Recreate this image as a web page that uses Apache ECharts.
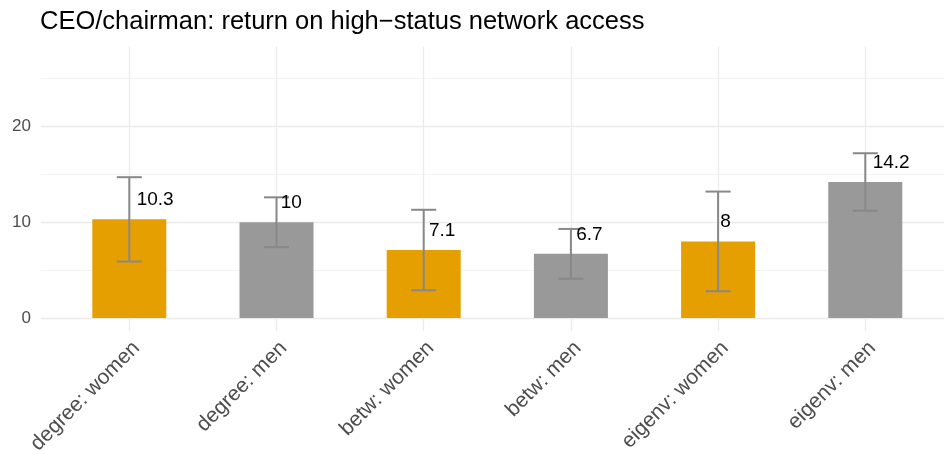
<!DOCTYPE html>
<html>
<head>
<meta charset="utf-8">
<script src="https://cdn.jsdelivr.net/npm/echarts@6/dist/echarts.min.js"></script>
<style>
  html, body { margin: 0; padding: 0; background: #fff; }
  #main { width: 944px; height: 454px; }
</style>
</head>
<body>
<div id="main"></div>
<script>
// data
var categories = ['degree: women', 'degree: men', 'betw: women', 'betw: men', 'eigenv: women', 'eigenv: men'];
var groups = ['women', 'men', 'women', 'men', 'women', 'men'];
var values = [10.3, 10, 7.1, 6.7, 8, 14.2];
var lower = [5.9, 7.4, 2.9, 4.1, 2.8, 11.2];
var upper = [14.7, 12.6, 11.3, 9.3, 13.2, 17.2];
var yMajor = [0, 10, 20];
var yMinor = [5, 15, 25];

(function () {
    var myChart = echarts.init(document.getElementById('main'));
    var colors = { women: '#E69F00', men: '#999999' };
    var fam = '"Liberation Sans", Arial, sans-serif';
    var labelFont = '19px ' + fam;
    var ctx = document.createElement('canvas').getContext('2d');
    ctx.font = labelFont;

    var idx = categories.map(function (c, i) { return i; });

    var option = {
        animation: false,
        title: {
            text: 'CEO/chairman: return on high\u2212status network access',
            left: 35,
            top: 4,
            textStyle: {
                fontFamily: fam,
                fontSize: 25.5,
                fontWeight: 'normal',
                color: '#000'
            }
        },
        grid: { left: 41, top: 46.4, width: 912.6, height: 284.6, outerBoundsMode: 'none', containLabel: false },
        xAxis: {
            type: 'value',
            min: -0.6,
            max: 5.6,
            axisLine: { show: false },
            axisTick: { show: false, customValues: idx },
            axisLabel: {
                customValues: idx,
                rotate: 45,
                margin: 21,
                padding: [0, -10, 0, 0],
                fontSize: 21,
                color: '#4d4d4d',
                fontFamily: fam,
                formatter: function (v) { return categories[Math.round(v)]; }
            },
            splitLine: { show: true, lineStyle: { color: '#ebebeb', width: 1.3 } }
        },
        yAxis: [
            {
                type: 'value',
                min: -1.35,
                max: 28.35,
                axisLine: { show: false },
                axisTick: { show: false, customValues: yMajor },
                axisLabel: {
                    customValues: yMajor,
                    margin: 10,
                    fontSize: 17,
                    color: '#4d4d4d',
                    fontFamily: fam
                },
                splitLine: { show: true, lineStyle: { color: '#ebebeb', width: 1.3 } }
            },
            {
                type: 'value',
                min: -1.35,
                max: 28.35,
                position: 'left',
                axisLine: { show: false },
                axisTick: { show: false, customValues: yMinor },
                axisLabel: { show: false, customValues: yMinor },
                splitLine: { show: true, lineStyle: { color: '#f0f0f0', width: 0.8 } }
            }
        ],
        series: [
            {
                type: 'bar',
                barWidth: 74,
                data: values.map(function (v, i) {
                    return { value: [i, v], itemStyle: { color: colors[groups[i]] } };
                }),
                z: 2
            },
            {
                type: 'custom',
                data: values.map(function (v, i) { return [i, lower[i], upper[i]]; }),
                renderItem: function (params, api) {
                    var lo = api.coord([api.value(0), api.value(1)]);
                    var hi = api.coord([api.value(0), api.value(2)]);
                    var hw = 12.5;
                    var st = { stroke: '#888888', lineWidth: 2 };
                    return {
                        type: 'group',
                        children: [
                            { type: 'line', shape: { x1: lo[0], y1: lo[1], x2: hi[0], y2: hi[1] }, style: st },
                            { type: 'line', shape: { x1: lo[0] - hw, y1: lo[1], x2: lo[0] + hw, y2: lo[1] }, style: st },
                            { type: 'line', shape: { x1: hi[0] - hw, y1: hi[1], x2: hi[0] + hw, y2: hi[1] }, style: st }
                        ]
                    };
                },
                z: 3
            },
            {
                type: 'custom',
                data: values.map(function (v, i) { return [i, v]; }),
                renderItem: function (params, api) {
                    var p = api.coord([api.value(0), api.value(1)]);
                    var lift = api.size([0, 2])[1];
                    var txt = String(api.value(1));
                    var w = ctx.measureText(txt).width;
                    return {
                        type: 'text',
                        x: p[0] + 0.2 * w,
                        y: p[1] - lift,
                        style: {
                            text: txt,
                            font: labelFont,
                            fill: '#000',
                            align: 'left',
                            verticalAlign: 'middle'
                        }
                    };
                },
                z: 4
            }
        ]
    };
    myChart.setOption(option);
})();
</script>
</body>
</html>
